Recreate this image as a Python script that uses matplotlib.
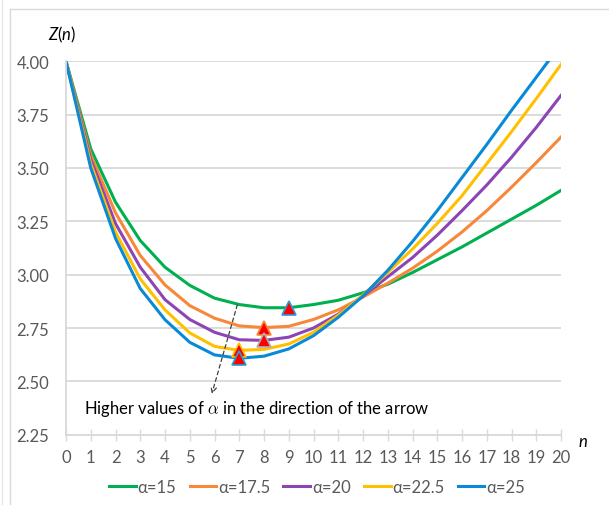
import matplotlib.pyplot as plt
from matplotlib.lines import Line2D

plt.rcParams['font.family'] = ['Lato', 'DejaVu Sans']
plt.rcParams['mathtext.fontset'] = 'custom'
plt.rcParams['mathtext.rm'] = 'Lato'
plt.rcParams['mathtext.it'] = 'Lato:italic'

# Z(n) for each alpha, n = 0..20
n = list(range(21))
z_15 = [4.00, 3.59, 3.34, 3.16, 3.035, 2.95, 2.89, 2.86, 2.845, 2.845, 2.86,
        2.88, 2.915, 2.955, 3.01, 3.07, 3.13, 3.195, 3.26, 3.325, 3.395]
z_17_5 = [4.00, 3.56, 3.29, 3.09, 2.952, 2.855, 2.796, 2.76, 2.752, 2.758, 2.79,
          2.835, 2.895, 2.96, 3.03, 3.11, 3.20, 3.30, 3.41, 3.525, 3.645]
z_20 = [4.00, 3.54, 3.24, 3.035, 2.883, 2.79, 2.73, 2.695, 2.692, 2.707, 2.75,
        2.815, 2.90, 2.99, 3.08, 3.185, 3.30, 3.42, 3.55, 3.69, 3.84]
z_22_5 = [4.00, 3.52, 3.20, 2.98, 2.835, 2.727, 2.664, 2.645, 2.65, 2.675, 2.73,
          2.81, 2.905, 3.01, 3.12, 3.24, 3.37, 3.52, 3.67, 3.825, 3.985]
z_25 = [4.00, 3.50, 3.17, 2.935, 2.789, 2.683, 2.624, 2.608, 2.618, 2.652, 2.714,
        2.80, 2.90, 3.02, 3.155, 3.30, 3.455, 3.61, 3.77, 3.925, 4.08]

series = [z_15, z_17_5, z_20, z_22_5, z_25]
labels = ['α=15', 'α=17.5', 'α=20', 'α=22.5', 'α=25']
colors = ['#00b050', '#f7883a', '#8b45b5', '#ffc000', '#0a8ad6']
# position of the minimum of each curve
n_min = [9, 8, 8, 7, 7]
marker_edges = ['#2e9bd6', '#f7883a', '#b0b0b0', '#ffc000', '#2e9bd6']

fig = plt.figure(figsize=(6.09, 5.06), dpi=100)
ax = fig.add_axes([66 / 609, 1 - 435.7 / 506, 495 / 609, 373.4 / 506])

for z, lab, c in zip(series, labels, colors):
    ax.plot(n, z, color=c, lw=2.2, label=lab, solid_joinstyle='round')

for z, i, ec in zip(series, n_min, marker_edges):
    ax.plot(n[i], z[i], marker='^', ms=9.5, mfc='red', mec=ec, mew=1.2,
            zorder=5, clip_on=False)

ax.set_xlim(0, 20)
ax.set_ylim(2.25, 4.0)
ax.set_xticks(n)
ax.set_yticks([2.25, 2.50, 2.75, 3.00, 3.25, 3.50, 3.75, 4.00])
ax.yaxis.set_major_formatter('{x:.2f}')
ax.grid(axis='y', color='#d9d9d9', lw=1.3)
ax.set_axisbelow(True)
for s in ['top', 'right']:
    ax.spines[s].set_visible(False)
ax.spines['left'].set_color('#d9d9d9')
ax.spines['bottom'].set_color('#d9d9d9')
ax.spines['left'].set_linewidth(1.3)
ax.spines['bottom'].set_linewidth(1.3)
ax.tick_params(axis='x', direction='inout', length=8, width=1, color='#d9d9d9',
               labelcolor='#595959', labelsize=12, pad=6)
ax.tick_params(axis='y', length=0, labelcolor='#595959', labelsize=12, pad=12)

# arrow and note
ax.annotate('', xy=(5.89, 2.441), xytext=(6.92, 2.858),
            arrowprops=dict(arrowstyle='->', color='#404040', lw=0.9,
                            linestyle=(0, (3, 2.5)), shrinkA=0, shrinkB=0))
ax.text(0.73, 2.375, r'Higher values of $\alpha$ in the direction of the arrow',
        va='center', ha='left', fontsize=12, color='black', math_fontfamily='cm')

fig.text(62 / 609, 1 - 35 / 506, '$Z(n)$', ha='center', va='center', fontsize=12)
fig.text(583 / 609, 1 - 442 / 506, '$n$', ha='center', va='center', fontsize=12)

fig.legend(loc='center', bbox_to_anchor=(317 / 609, 1 - 488 / 506), ncol=5,
           frameon=False, fontsize=12, labelcolor='#595959', handlelength=1.6,
           handletextpad=0.1, columnspacing=0.8)

# chart area border
fig.add_artist(Line2D([10 / 609, 10 / 609], [0, 1 - 10 / 506], color='#d9d9d9', lw=1))
fig.add_artist(Line2D([10 / 609, 1], [1 - 10 / 506, 1 - 10 / 506], color='#d9d9d9', lw=1))
fig.add_artist(Line2D([2 / 609, 2 / 609], [0, 1], color='#e6e6e6', lw=1))

fig.savefig('out.png', dpi=100)
